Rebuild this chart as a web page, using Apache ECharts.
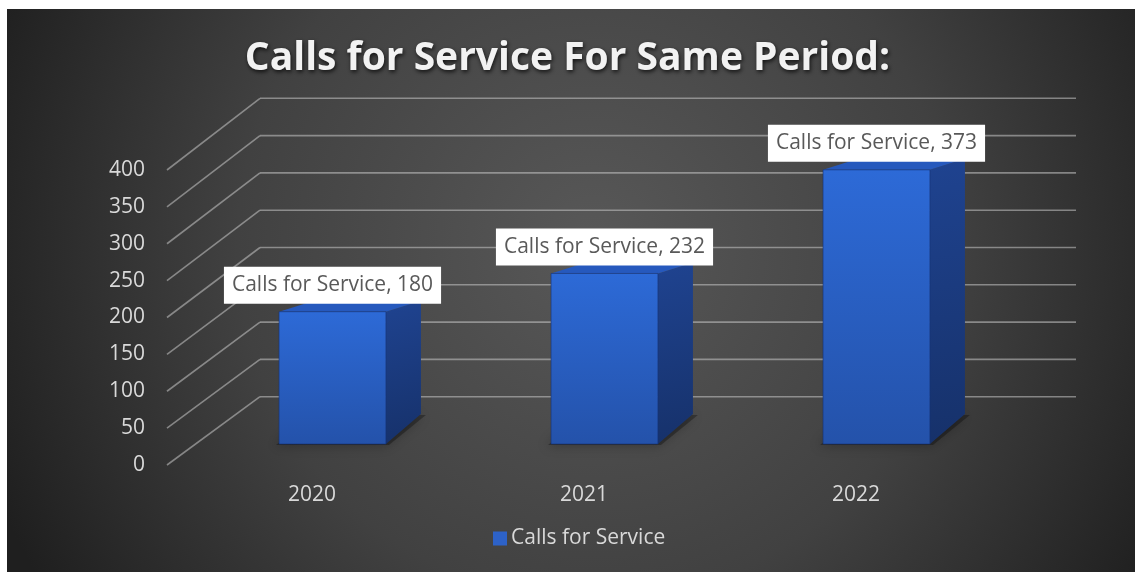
<!DOCTYPE html>
<html><head><meta charset="utf-8">
<script src="https://cdn.jsdelivr.net/npm/echarts@6/dist/echarts.min.js"></script>
<style>html,body{margin:0;padding:0;background:#fff}#c{width:1135px;height:572px}</style>
</head><body><div id="c"></div>
<script>
// ---- data ----
const categories = ['2020', '2021', '2022'];
const seriesName = 'Calls for Service';
const values = [180, 232, 373];
const yTicks = [0, 50, 100, 150, 200, 250, 300, 350, 400];
const titleText = 'Calls for Service For Same Period:';

// ---- style ----
const FONT = '"Open Sans", sans-serif';
const LABEL_COLOR = '#d9d9d9';
const GRID_COLOR = 'rgba(200,200,200,0.55)';

const chart = echarts.init(document.getElementById('c'), null, {renderer: 'canvas'});

const wallGrid = {left: 260, top: 98.3, width: 816, height: 298.4};
const frontGrid = {left: 176, top: 170, width: 816, height: 295};
const barGrid = {left: 196.5, top: 150, width: 816, height: 294};
const FRONT_X = 167, FRONT_TOP = 170, FRONT_H = 295;

function wallLines(params, api) {
  const cs = params.coordSys;
  const p = api.coord([0, api.value(1)]);
  const fy = FRONT_TOP + (p[1] - cs.y) * FRONT_H / cs.height;
  return {
    type: 'group',
    children: [
      {type: 'line', shape: {x1: cs.x, y1: p[1], x2: cs.x + cs.width, y2: p[1]},
       style: {stroke: GRID_COLOR, lineWidth: 1.6}},
      {type: 'line', shape: {x1: cs.x, y1: p[1], x2: FRONT_X, y2: fy},
       style: {stroke: GRID_COLOR, lineWidth: 1.6}}
    ]
  };
}

function bar3d(params, api) {
  const idx = api.value(0), v = api.value(1);
  const top = api.coord([idx, v]);
  const base = api.coord([idx, 0]);
  const band = api.size([1, 0])[0];
  const w = band * 0.393;
  const l = top[0] - w / 2, r = top[0] + w / 2;
  const yt = top[1], yb = base[1];
  const dx = 35, dyT = -11, dyB = -30;
  return {
    type: 'group',
    children: [
      {type: 'polygon', shape: {points: [[l - 3, yb + 1], [r + 3, yb + 1], [r + dx + 5, yb + dyB + 1], [l + dx, yb + dyB]]},
       style: {fill: 'rgba(0,0,0,0.3)', shadowBlur: 12, shadowColor: 'rgba(0,0,0,0.85)', shadowOffsetX: -3, shadowOffsetY: 1}},
      {type: 'polygon', shape: {points: [[r, yt], [r + dx, yt + dyT], [r + dx, yb + dyB], [r, yb]]},
       style: {fill: new echarts.graphic.LinearGradient(0, 0, 1, 1, [
         {offset: 0, color: '#1f4390'}, {offset: 1, color: '#16316a'}])}},
      {type: 'polygon', shape: {points: [[l, yt], [l + dx, yt + dyT], [r + dx, yt + dyT], [r, yt]]},
       style: {fill: '#2659bd'}},
      {type: 'rect', shape: {x: l, y: yt, width: w, height: yb - yt},
       style: {fill: new echarts.graphic.LinearGradient(0, 0, 0, 1, [
         {offset: 0, color: '#2d6ad7'}, {offset: 1, color: '#2452aa'}]),
         stroke: 'rgba(20,50,120,0.6)', lineWidth: 1}},
      {type: 'text', x: top[0], y: yt - 8, z2: 10,
       style: {text: seriesName + ', ' + v, align: 'center', verticalAlign: 'bottom',
         fill: '#595959', font: '21px ' + FONT, backgroundColor: '#ffffff',
         padding: [6, 8, 6, 8], lineHeight: 25}}
    ]
  };
}

const option = {
  animation: false,
  graphic: [{
    type: 'rect', z: -100, silent: true,
    shape: {x: 7, y: 9, width: 1128, height: 563},
    style: {fill: {type: 'radial', x: 0.52, y: 0.42, r: 1.15, colorStops: [
      {offset: 0, color: '#585858'}, {offset: 0.55, color: '#414141'}, {offset: 1, color: '#1f1f1f'}]}}
  }],
  title: {
    text: titleText, left: 'center', top: 34,
    textStyle: {color: '#f2f2f2', fontSize: 39, fontWeight: 'bold', fontFamily: FONT,
      textShadowColor: 'rgba(0,0,0,0.75)', textShadowBlur: 4, textShadowOffsetX: 1, textShadowOffsetY: 2}
  },
  legend: {
    data: [seriesName], left: 488, top: 523, itemWidth: 14, itemHeight: 14, icon: 'rect',
    itemGap: 0, textStyle: {color: LABEL_COLOR, fontSize: 21, fontFamily: FONT, padding: [0, 0, 0, -1]}
  },
  grid: [
    Object.assign({}, wallGrid),
    Object.assign({}, frontGrid),
    Object.assign({}, barGrid)
  ],
  xAxis: [
    {type: 'category', gridIndex: 0, data: categories, show: false},
    {type: 'category', gridIndex: 1, data: categories,
     axisLine: {show: false}, axisTick: {show: false},
     axisLabel: {color: LABEL_COLOR, fontSize: 21, fontFamily: FONT, margin: 20}},
    {type: 'category', gridIndex: 2, data: categories, show: false}
  ],
  yAxis: [
    {type: 'value', gridIndex: 0, min: 0, max: 400, interval: 50, show: false},
    {type: 'value', gridIndex: 1, min: 0, max: 400, interval: 50,
     axisLine: {show: false}, axisTick: {show: false}, splitLine: {show: false},
     axisLabel: {color: LABEL_COLOR, fontSize: 21, fontFamily: FONT, margin: 31}},
    {type: 'value', gridIndex: 2, min: 0, max: 400, interval: 50, show: false}
  ],
  series: [
    {type: 'custom', name: 'wall', xAxisIndex: 0, yAxisIndex: 0, silent: true,
     renderItem: wallLines, data: yTicks.map(v => [0, v]), z: 1},
    {type: 'custom', name: seriesName, xAxisIndex: 2, yAxisIndex: 2,
     itemStyle: {color: '#2d62c8'},
     renderItem: bar3d, data: values.map((v, i) => [i, v]), z: 5}
  ]
};
chart.setOption(option);
</script></body></html>
